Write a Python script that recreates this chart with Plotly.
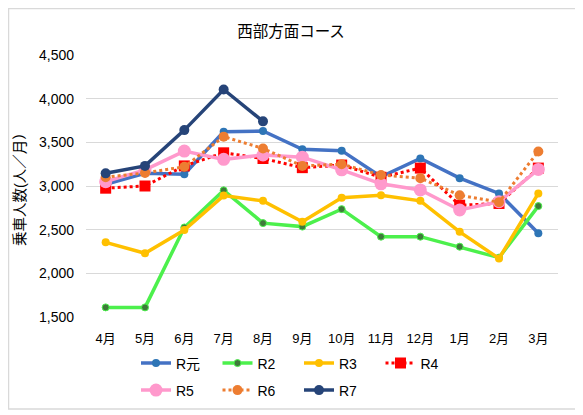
import plotly.graph_objects as go

MONTHS = ["4月", "5月", "6月", "7月", "8月", "9月", "10月", "11月", "12月", "1月", "2月", "3月"]

R_GAN = [3020, 3145, 3135, 3620, 3630, 3420, 3405, 3105, 3315, 3090, 2915, 2460]
R2 = [1610, 1610, 2525, 2950, 2575, 2535, 2735, 2420, 2420, 2305, 2180, 2770]
R3 = [2355, 2230, 2495, 2890, 2830, 2590, 2865, 2895, 2830, 2475, 2170, 2915]
R4 = [2975, 3000, 3230, 3380, 3315, 3210, 3240, 3100, 3205, 2780, 2800, 3205]
R5 = [3050, 3185, 3400, 3305, 3355, 3330, 3185, 3025, 2955, 2725, 2820, 3190]
R6 = [3100, 3150, 3220, 3565, 3430, 3230, 3250, 3125, 3090, 2895, 2815, 3395]
R7 = [3145, 3230, 3640, 4105, 3740]

FONT = "Liberation Sans, Arial, Noto Sans CJK JP, sans-serif"

# the page body adds an 8px margin, so the figure is a bit smaller than the window
W, H = 575, 407
L, R, T, B = 78, 25, 47, 98
PW, PH = W - L - R, H - T - B


def line_trace(name, values, color, width, size, legend, dash="solid", symbol="circle",
               marker_color=None, marker_line=None):
    return go.Scatter(
        x=MONTHS[:len(values)],
        y=values,
        name=name,
        legend=legend,
        mode="lines+markers",
        line={"color": color, "width": width, "dash": dash},
        marker={
            "symbol": symbol,
            "size": size,
            "color": marker_color or color,
            "line": {"color": marker_line or marker_color or color, "width": 1 if marker_line else 0},
        },
    )


def legend_box(top):
    # top is the legend's upper edge in figure pixels
    return {"orientation": "h", "xref": "container", "x": 128 / W, "xanchor": "left",
            "yref": "container", "y": 1 - top / H, "yanchor": "top",
            "entrywidth": 36.5, "font": {"size": 14},
            "traceorder": "normal", "bgcolor": "rgba(0,0,0,0)"}


def build_chart():
    fig = go.Figure()
    fig.add_trace(line_trace("R元", R_GAN, "#4472C4", 3.5, 8, "legend", marker_color="#2E75B6"))
    fig.add_trace(line_trace("R2", R2, "#4CF04C", 3.5, 7, "legend", marker_color="#3E7A3A",
                             marker_line="#4CF04C"))
    fig.add_trace(line_trace("R3", R3, "#FFC000", 3.5, 8, "legend"))
    fig.add_trace(line_trace("R4", R4, "#FF0000", 3, 11, "legend", dash="dot", symbol="square"))
    fig.add_trace(line_trace("R5", R5, "#FF99CC", 3.5, 13, "legend2"))
    fig.add_trace(line_trace("R6", R6, "#ED7D31", 3, 10, "legend2", dash="dot"))
    fig.add_trace(line_trace("R7", R7, "#264478", 3.5, 10, "legend2"))

    fig.update_layout(
        width=W,
        height=H,
        margin={"l": L, "r": R, "t": T, "b": B, "pad": 0, "autoexpand": False},
        paper_bgcolor="white",
        plot_bgcolor="white",
        font={"family": FONT, "size": 13, "color": "#000000"},
        title={"text": "西部方面コース", "x": 283 / W, "xref": "container", "xanchor": "center",
               "y": 1 - 24 / H, "yanchor": "middle", "font": {"size": 15.5}},
        xaxis={"range": [-0.5, 11.5], "showgrid": False, "showline": False,
               "ticks": "", "tickfont": {"size": 13}, "ticklabelstandoff": 12},
        yaxis={"range": [1500, 4500], "dtick": 500, "tickformat": ",d",
               "gridcolor": "#d9d9d9", "gridwidth": 1, "zeroline": False,
               "ticks": "", "tickfont": {"size": 14}, "ticklabelstandoff": 11},
        legend=legend_box(339.5),
        legend2=legend_box(366.5),
        showlegend=True,
        annotations=[{
            "text": "乗車人数(人／月）", "textangle": -90, "showarrow": False,
            "xref": "paper", "yref": "paper", "x": (12 - L) / PW, "y": (309 - 178) / PH,
            "xanchor": "center", "yanchor": "middle", "font": {"size": 14.5},
        }],
        shapes=[{
            "type": "rect", "xref": "paper", "yref": "paper",
            "x0": (0.5 - L) / PW, "x1": (568 - L) / PW,
            "y0": (309 - 401) / PH, "y1": (309 - 0.5) / PH,
            "line": {"color": "#d9d9d9", "width": 1.5}, "fillcolor": "rgba(0,0,0,0)",
            "layer": "below",
        }],
    )
    return fig


def main():
    fig = build_chart()
    fig.write_html("out.html")


if __name__ == "__main__":
    main()
